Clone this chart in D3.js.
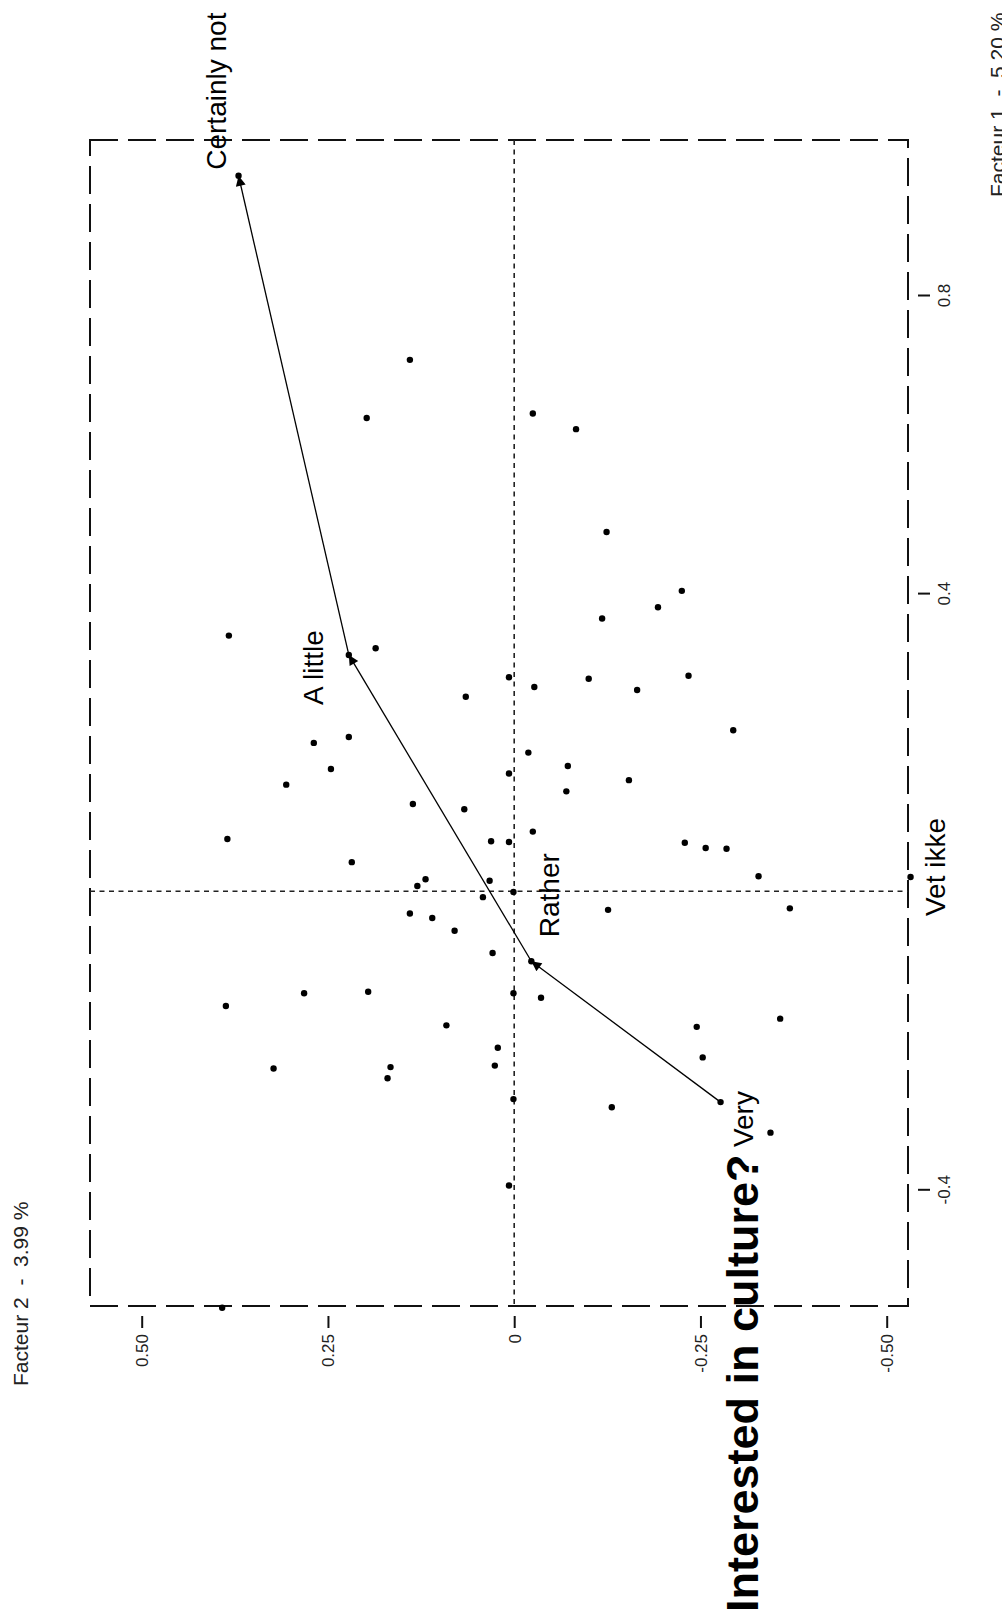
<!DOCTYPE html>
<html><head><meta charset="utf-8">
<script src="https://cdn.jsdelivr.net/npm/d3@7"></script>
<style>
body{margin:0;background:#fff}
svg{display:block}
text{font-family:"Liberation Sans",Arial,sans-serif}
</style>
</head><body>
<svg id="chart" width="1002" height="1623"></svg>
<script>
// ---- data ----
const title = "Interested in culture?";
const factor1Title = "Facteur 1  -  5.20 %";
const factor2Title = "Facteur 2  -  3.99 %";
const factor1Ticks = [-0.4, 0.4, 0.8];
const factor1TickLabels = ["-0.4", "0.4", "0.8"];
const factor2Ticks = [0.5, 0.25, 0, -0.25, -0.5];
const factor2TickLabels = ["0.50", "0.25", "0", "-0.25", "-0.50"];

// supplementary points (factor 2, factor 1)
const pointF2 = [0.140,0.198,-0.025,-0.083,-0.124,-0.225,-0.193,-0.118,0.383,0.186,
  0.007,-0.027,-0.100,0.065,-0.234,-0.165,-0.294,0.222,0.269,0.246,
  0.306,-0.019,-0.072,0.007,-0.070,-0.154,0.136,0.067,0.385,-0.025,
  0.031,0.007,-0.229,-0.257,-0.285,0.218,0.119,0.130,0.033,0.001,
  0.042,-0.328,0.140,0.110,0.080,-0.126,-0.370,0.029,0.001,-0.036,
  0.282,0.196,0.387,0.091,-0.245,-0.357,0.022,0.026,0.323,0.166,
  0.170,-0.253,0.001,-0.131,-0.344,0.007,0.392];
const pointF1 = [0.713,0.635,0.641,0.620,0.482,0.403,0.381,0.366,0.343,0.326,
  0.287,0.274,0.285,0.261,0.289,0.270,0.216,0.207,0.199,0.164,
  0.143,0.186,0.168,0.158,0.134,0.149,0.117,0.110,0.070,0.080,
  0.067,0.066,0.065,0.058,0.057,0.039,0.016,0.007,0.014,-0.001,
  -0.008,0.020,-0.030,-0.036,-0.053,-0.025,-0.023,-0.083,-0.137,-0.143,
  -0.137,-0.135,-0.154,-0.180,-0.182,-0.171,-0.210,-0.234,-0.238,-0.236,
  -0.251,-0.223,-0.279,-0.290,-0.324,-0.395,-0.559];

// category points
const categories = ["Certainly not", "A little", "Rather", "Very", "Vet ikke"];
const categoryF2 = [0.370, 0.222, -0.023, -0.277, -0.532];
const categoryF1 = [0.960, 0.317, -0.094, -0.283, 0.019];
const pathOrder = ["Very", "Rather", "A little", "Certainly not"];

// ---- layout / style ----
const labelOffset = {            // [dx, dy] of label start (baseline) from its point, px
  "Certainly not": [-13, -6],
  "A little": [-26, 50],
  "Rather": [28, -24],
  "Very": [32, 45],
  "Vet ikke": [34, 39]
};
const frame = {x0: 90, x1: 908, y0: 140, y1: 1306};

const svg = d3.select("#chart");
const x = d3.scaleLinear().domain([0.5, -0.5]).range([141.7, 886.7]);
const y = d3.scaleLinear().domain([0.8, -0.4]).range([295, 1189.3]);

// frame
svg.append("rect")
  .attr("x", frame.x0).attr("y", frame.y0)
  .attr("width", frame.x1 - frame.x0).attr("height", frame.y1 - frame.y0)
  .attr("fill", "none").attr("stroke", "#111").attr("stroke-width", 2)
  .attr("stroke-dasharray", "28 10");

// zero lines
svg.append("line")
  .attr("x1", x(0)).attr("x2", x(0)).attr("y1", frame.y0).attr("y2", frame.y1)
  .attr("stroke", "#222").attr("stroke-width", 1.6).attr("stroke-dasharray", "5 4.5");
svg.append("line")
  .attr("x1", frame.x0).attr("x2", frame.x1).attr("y1", y(0)).attr("y2", y(0))
  .attr("stroke", "#222").attr("stroke-width", 1.6).attr("stroke-dasharray", "5 4.5");

// axis factor 2 (below)
const ax2 = svg.append("g").attr("transform", `translate(0,${frame.y1 + 10})`)
  .call(d3.axisBottom(x).tickValues(factor2Ticks).tickSize(12)
    .tickFormat((d, i) => factor2TickLabels[i]));
ax2.select(".domain").remove();
ax2.selectAll(".tick line").attr("stroke", "#111").attr("stroke-width", 2);
ax2.selectAll(".tick text")
  .attr("transform", "rotate(-90)")
  .attr("x", -18).attr("y", 0).attr("dy", "0.35em")
  .attr("text-anchor", "end")
  .attr("font-size", 17).attr("fill", "#222")
  .style("font-family", '"Liberation Sans", Arial, sans-serif');

// axis factor 1 (right)
const ax1 = svg.append("g").attr("transform", `translate(${frame.x1 + 10},0)`)
  .call(d3.axisRight(y).tickValues(factor1Ticks).tickSize(12)
    .tickFormat((d, i) => factor1TickLabels[i]));
ax1.select(".domain").remove();
ax1.selectAll(".tick line").attr("stroke", "#111").attr("stroke-width", 2);
ax1.selectAll(".tick text")
  .attr("transform", "rotate(-90)")
  .attr("x", 0).attr("y", 32).attr("dy", 0)
  .attr("text-anchor", "middle")
  .attr("font-size", 17).attr("fill", "#222")
  .style("font-family", '"Liberation Sans", Arial, sans-serif');

// axis titles
svg.append("text")
  .attr("transform", "translate(28,1386) rotate(-90)")
  .attr("font-size", 21).attr("fill", "#222").style("white-space", "pre")
  .text(factor2Title);
svg.append("text")
  .attr("transform", "translate(1005,197) rotate(-90)")
  .attr("font-size", 21).attr("fill", "#222").style("white-space", "pre")
  .text(factor1Title);

// arrow marker
svg.append("defs").append("marker")
  .attr("id", "arrow").attr("viewBox", "0 0 10 10")
  .attr("refX", 10).attr("refY", 5)
  .attr("markerWidth", 13).attr("markerHeight", 10)
  .attr("markerUnits", "userSpaceOnUse")
  .attr("orient", "auto")
  .append("path").attr("d", "M0,0L10,5L0,10Z").attr("fill", "#000");

// supplementary points
svg.append("g").selectAll("circle")
  .data(pointF2.map((v, i) => [v, pointF1[i]]))
  .join("circle")
  .attr("cx", d => x(d[0])).attr("cy", d => y(d[1]))
  .attr("r", 3.2).attr("fill", "#000");

// category points
const cat = categories.map((c, i) => ({name: c, f2: categoryF2[i], f1: categoryF1[i]}));
const catBy = Object.fromEntries(cat.map(d => [d.name, d]));
svg.append("g").selectAll("circle")
  .data(cat).join("circle")
  .attr("cx", d => x(d.f2)).attr("cy", d => y(d.f1))
  .attr("r", 3.2).attr("fill", "#000");

// trajectory
const segs = d3.pairs(pathOrder.map(n => catBy[n]));
svg.append("g").selectAll("line")
  .data(segs).join("line")
  .attr("x1", d => x(d[0].f2)).attr("y1", d => y(d[0].f1))
  .attr("x2", d => x(d[1].f2)).attr("y2", d => y(d[1].f1))
  .attr("stroke", "#000").attr("stroke-width", 1.3)
  .attr("marker-end", "url(#arrow)");

// category labels
svg.append("g").selectAll("text")
  .data(cat).join("text")
  .attr("transform", d => `translate(${x(d.f2) + labelOffset[d.name][0]},${y(d.f1) + labelOffset[d.name][1]}) rotate(-90)`)
  .attr("font-size", 28).attr("fill", "#000")
  .text(d => d.name);

// title
svg.append("text")
  .attr("transform", "translate(758,1612) rotate(-90)")
  .attr("font-size", 45).attr("font-weight", "bold").attr("fill", "#000")
  .text(title);
</script>
</body></html>
